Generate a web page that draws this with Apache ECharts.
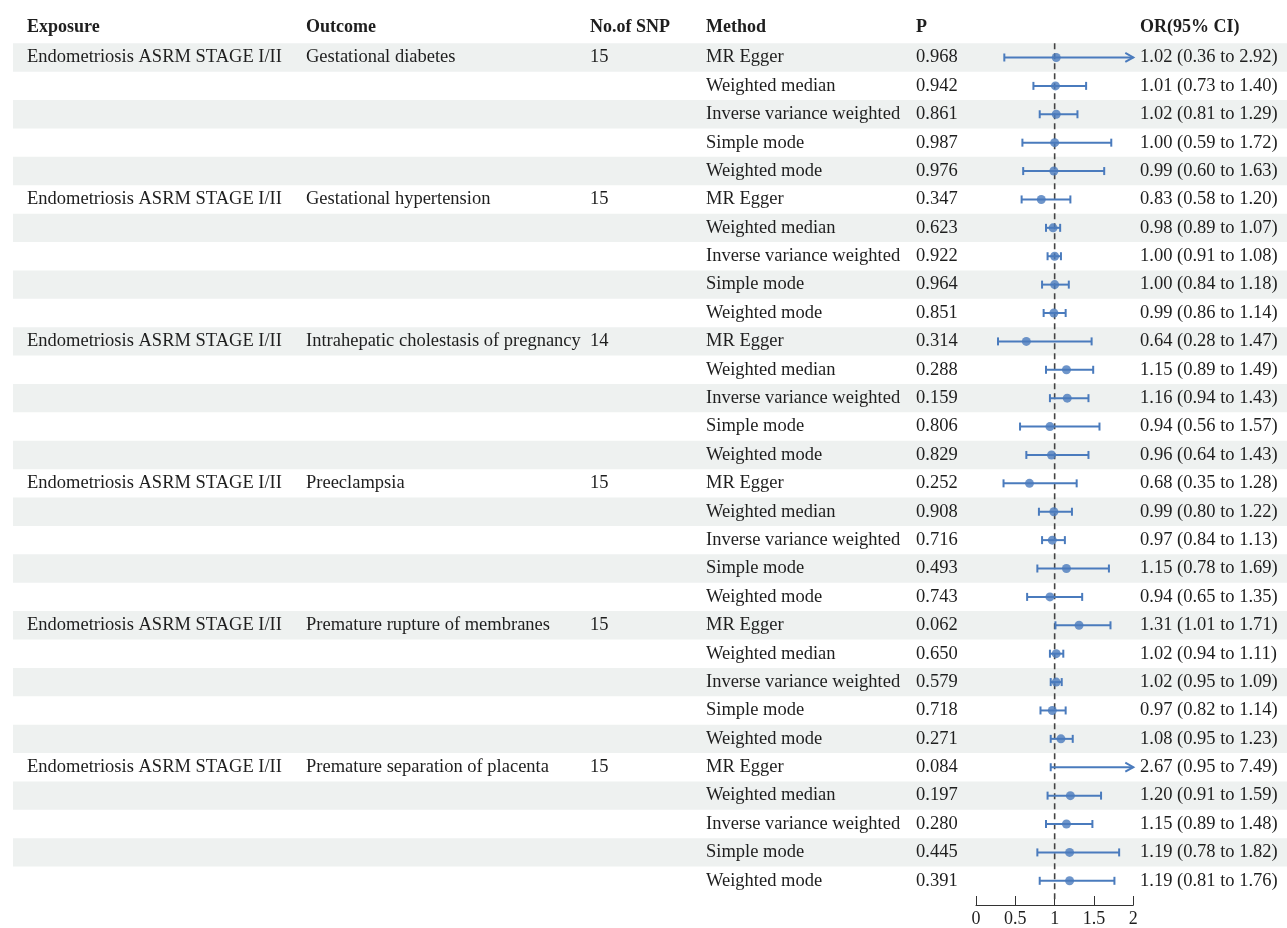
<!DOCTYPE html>
<html>
<head>
<meta charset="utf-8">
<script src="https://cdn.jsdelivr.net/npm/echarts@6/dist/echarts.min.js"></script>
<style>
html, body { margin: 0; padding: 0; background: #fff; }
#main { width: 1287px; height: 928px; }
</style>
</head>
<body>
<div id="main"></div>
<script>

var exposure = 'Endometriosis ASRM STAGE I/II';
var outcomes = ['Gestational diabetes', 'Gestational hypertension', 'Intrahepatic cholestasis of pregnancy',
                'Preeclampsia', 'Premature rupture of membranes', 'Premature separation of placenta'];
var snp_counts = [15, 15, 14, 15, 15, 15];
var methods = ['MR Egger', 'Weighted median', 'Inverse variance weighted', 'Simple mode', 'Weighted mode'];

var p_values = ['0.968', '0.942', '0.861', '0.987', '0.976',
                '0.347', '0.623', '0.922', '0.964', '0.851',
                '0.314', '0.288', '0.159', '0.806', '0.829',
                '0.252', '0.908', '0.716', '0.493', '0.743',
                '0.062', '0.650', '0.579', '0.718', '0.271',
                '0.084', '0.197', '0.280', '0.445', '0.391'];
var or_values = [1.02, 1.01, 1.02, 1.00, 0.99,
                 0.83, 0.98, 1.00, 1.00, 0.99,
                 0.64, 1.15, 1.16, 0.94, 0.96,
                 0.68, 0.99, 0.97, 1.15, 0.94,
                 1.31, 1.02, 1.02, 0.97, 1.08,
                 2.67, 1.20, 1.15, 1.19, 1.19];
var ci_low = [0.36, 0.73, 0.81, 0.59, 0.60,
              0.58, 0.89, 0.91, 0.84, 0.86,
              0.28, 0.89, 0.94, 0.56, 0.64,
              0.35, 0.80, 0.84, 0.78, 0.65,
              1.01, 0.94, 0.95, 0.82, 0.95,
              0.95, 0.91, 0.89, 0.78, 0.81];
var ci_high = [2.92, 1.40, 1.29, 1.72, 1.63,
               1.20, 1.07, 1.08, 1.18, 1.14,
               1.47, 1.49, 1.43, 1.57, 1.43,
               1.28, 1.22, 1.13, 1.69, 1.35,
               1.71, 1.11, 1.09, 1.14, 1.23,
               7.49, 1.59, 1.48, 1.82, 1.76];
var headers = ['Exposure', 'Outcome', 'No.of SNP', 'Method', 'P', 'OR(95% CI)'];
var x_min = 0, x_max = 2, x_step = 0.5;

// layout
var col_x = [27, 306, 590, 706, 916, 1140];
var serif = "'Liberation Serif', 'Times New Roman', serif";
var text_color = '#1e1e1e';
var band_color = '#eef1f0';
var blue = '#4a7bbd';

var rows = [];
for (var i = 0; i < p_values.length; i++) {
    var g = Math.floor(i / methods.length), m = i % methods.length;
    var first = m === 0;
    rows.push([
        first ? exposure : '',
        first ? outcomes[g] : '',
        first ? String(snp_counts[g]) : '',
        methods[m],
        p_values[i],
        or_values[i].toFixed(2) + ' (' + ci_low[i].toFixed(2) + ' to ' + ci_high[i].toFixed(2) + ')'
    ]);
}
var row_names = rows.map(function (r, i) { return String(i); });

function render_row(params, api) {
    var i = api.value(1);
    var y = api.coord([0, i])[1];
    var h = api.size([0, 1])[1];
    var kids = [];
    if (i % 2 === 0) {
        kids.push({type: 'rect', shape: {x: 13, y: y - h / 2, width: 1287 - 13, height: h},
                   style: {fill: band_color}});
    }
    rows[i].forEach(function (t, k) {
        if (!t) return;
        kids.push({type: 'text', x: col_x[k], y: y,
                   style: {text: t, fill: text_color, fontSize: 18.5, fontFamily: serif,
                           align: 'left', verticalAlign: 'middle'}});
    });
    return {type: 'group', children: kids};
}

function render_ci(params, api) {
    var i = api.value(0), lo = api.value(1), hi = api.value(2);
    var p0 = api.coord([lo, i]);
    var over = hi > x_max;
    var p1 = api.coord([Math.min(hi, x_max), i]);
    var s = {stroke: blue, lineWidth: 2, fill: null};
    var kids = [
        {type: 'line', shape: {x1: p0[0], y1: p0[1], x2: p1[0], y2: p1[1]}, style: s},
        {type: 'line', shape: {x1: p0[0], y1: p0[1] - 4, x2: p0[0], y2: p0[1] + 4}, style: s}
    ];
    if (over) {
        kids.push({type: 'polyline', shape: {points: [[p1[0] - 8, p1[1] - 4.5], [p1[0], p1[1]], [p1[0] - 8, p1[1] + 4.5]]}, style: s});
    } else {
        kids.push({type: 'line', shape: {x1: p1[0], y1: p1[1] - 4, x2: p1[0], y2: p1[1] + 4}, style: s});
    }
    return {type: 'group', children: kids};
}

function render_ref(params, api) {
    var x = api.coord([api.value(0), 0])[0];
    var cs = params.coordSys;
    return {type: 'line', shape: {x1: x, y1: cs.y, x2: x, y2: cs.y + cs.height + 8},
            style: {stroke: '#444', lineWidth: 1.6, lineDash: [6, 4]}};
}

var chart = echarts.init(document.getElementById('main'));

var option = {
    animation: false,
    backgroundColor: '#fff',
    graphic: headers.map(function (t, k) {
        return {type: 'text', x: col_x[k], y: 27, z: 10,
                style: {text: t, fill: text_color, fontSize: 18, fontWeight: 'bold', fontFamily: serif,
                        align: 'left', verticalAlign: 'middle'}};
    }),
    grid: [
        {left: 0, right: 0, top: 43.3, bottom: 33},
        {left: 976, right: 153.7, top: 43.3, bottom: 33}
    ],
    xAxis: [
        {gridIndex: 0, type: 'value', min: 0, max: 1, show: false},
        {gridIndex: 1, type: 'value', min: x_min, max: x_max, interval: x_step, offset: 10,
         axisLine: {show: true, lineStyle: {color: '#333', width: 1}},
         axisTick: {show: true, inside: true, length: 9, lineStyle: {color: '#333', width: 1}},
         axisLabel: {color: text_color, fontSize: 18, fontFamily: serif, margin: 5,
                     showMinLabel: true, showMaxLabel: true},
         splitLine: {show: false}}
    ],
    yAxis: [
        {gridIndex: 0, type: 'category', data: row_names, inverse: true, show: false},
        {gridIndex: 1, type: 'category', data: row_names, inverse: true, show: false}
    ],
    series: [
        {type: 'custom', name: 'table', xAxisIndex: 0, yAxisIndex: 0, z: 0, silent: true,
         renderItem: render_row, clip: false,
         data: rows.map(function (r, i) { return [0, i]; })},
        {type: 'custom', name: 'ref', xAxisIndex: 1, yAxisIndex: 1, z: 1, silent: true,
         renderItem: render_ref, clip: false, data: [[1, 0]]},
        {type: 'custom', name: 'ci', xAxisIndex: 1, yAxisIndex: 1, z: 2, silent: true,
         renderItem: render_ci, clip: false, encode: {x: [1, 2], y: 0},
         data: or_values.map(function (v, i) { return [i, ci_low[i], ci_high[i]]; })},
        {type: 'scatter', name: 'or', xAxisIndex: 1, yAxisIndex: 1, z: 3, silent: true,
         symbol: 'circle', symbolSize: 9, itemStyle: {color: blue},
         data: or_values.map(function (v, i) { return [v, i]; }).filter(function (d) { return d[0] <= x_max; })}
    ]
};
chart.setOption(option);
</script>
</body>
</html>
